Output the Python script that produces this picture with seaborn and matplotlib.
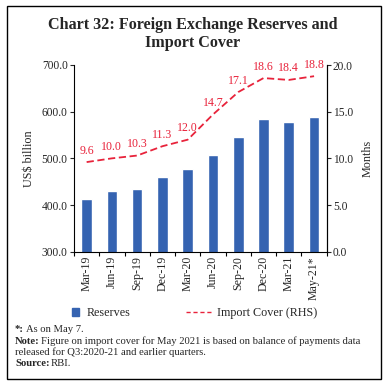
import numpy as np
import pandas as pd
import matplotlib
matplotlib.use("Agg")
import matplotlib.pyplot as plt
import seaborn as sns
from matplotlib.patches import Rectangle, Patch
from matplotlib.lines import Line2D

categories = ["Mar-19", "Jun-19", "Sep-19", "Dec-19", "Mar-20",
              "Jun-20", "Sep-20", "Dec-20", "Mar-21", "May-21*"]
reserves = [412.9, 429.6, 433.7, 459.9, 477.8, 506.8, 544.7, 585.3, 577.0, 589.5]
import_cover = [9.6, 10.0, 10.3, 11.3, 12.0, 14.7, 17.1, 18.6, 18.4, 18.8]
left_ticks = [300.0, 400.0, 500.0, 600.0, 700.0]
right_ticks = [0.0, 5.0, 10.0, 15.0, 20.0]

sns.set_style("ticks")
plt.rcParams['font.family'] = ['Liberation Serif', 'DejaVu Serif']

BLUE = "#3563B1"
RED = "#E8233B"

df = pd.DataFrame({"cat": categories, "res": reserves, "cov": import_cover,
                   "pos": np.arange(len(categories))})

W, H = 386, 385
fig = plt.figure(figsize=(W/100, H/100), dpi=100)
ax = fig.add_axes([74/W, 1-251.7/H, (326.7-74)/W, (251.7-65)/H])

sns.barplot(data=df, x="cat", y="res", color=BLUE, width=0.42, ax=ax,
            saturation=1)
ax.set_ylim(300, 700)
ax.set_xlim(-0.5, len(categories)-0.5)
ax.set_yticks(left_ticks)
ax.set_yticklabels([f"{v:.1f}" for v in left_ticks], fontsize=8.3)
ax.set_xticks(np.arange(len(categories)))
ax.set_xticklabels(categories, rotation=90, fontsize=8.6)
ax.tick_params(axis='x', which='major', length=0, pad=3)
ax.set_xticks(np.arange(-0.5, len(categories), 1.0), minor=True)
ax.tick_params(axis='x', which='minor', length=3, width=0.8, color='black')
ax.tick_params(axis='y', length=3, width=0.8, pad=1.5)
ax.set_xlabel("")
ax.set_ylabel("US$ billion", fontsize=8.7, labelpad=5)
for s in ['left', 'bottom', 'right']:
    ax.spines[s].set_color('black')
    ax.spines[s].set_linewidth(0.8)
ax.spines['top'].set_visible(False)

ax2 = ax.twinx()
sns.lineplot(data=df, x="pos", y="cov", ax=ax2, color=RED, linewidth=1.3,
             linestyle=(0, (4, 2)))
ax2.set_ylim(0, 20)
ax2.set_yticks(right_ticks)
ax2.set_yticklabels([f"{v:.1f}" for v in right_ticks], fontsize=8.3)
ax2.tick_params(axis='y', length=3, width=0.8, pad=1.5)
ax2.set_ylabel("Months", fontsize=8.7, labelpad=6)
ax2.spines['top'].set_visible(False)
ax2.spines['right'].set_color('black')
ax2.spines['right'].set_linewidth(0.8)
ax2.spines['left'].set_visible(False)
ax2.spines['bottom'].set_visible(False)
ax2.set_xlim(-0.5, len(categories)-0.5)
if ax2.get_legend():
    ax2.get_legend().remove()

for i, v in enumerate(import_cover):
    ax2.annotate(f"{v:.1f}", (i, v), xytext=(0, 4), textcoords="offset points",
                 ha="center", va="bottom", color=RED, fontsize=8.6)

# Legend (two pieces so the handles can have different lengths)
fig.legend([Patch(facecolor=BLUE, edgecolor=BLUE)], ["Reserves"], loc="center left",
           bbox_to_anchor=(72/W, 1-313/H), frameon=False, fontsize=8.7,
           handlelength=0.6, handleheight=0.6, handletextpad=0.6,
           borderpad=0, borderaxespad=0)
fig.legend([Line2D([0], [0], color=RED, linewidth=1.0, linestyle=(0, (3, 2)))],
           ["Import Cover (RHS)"], loc="center left",
           bbox_to_anchor=(186/W, 1-313/H), frameon=False, fontsize=8.7,
           handlelength=2.2, handletextpad=0.4, borderpad=0, borderaxespad=0)

# Title
fig.text(193/W, 1-25/H, "Chart 32: Foreign Exchange Reserves and",
         ha="center", va="center", fontsize=11.6, fontweight="bold")
fig.text(193/W, 1-43/H, "Import Cover",
         ha="center", va="center", fontsize=11.6, fontweight="bold")

# Footnotes
fig.canvas.draw()
renderer = fig.canvas.get_renderer()
fs = 7.7
x0 = 15/W

def mixed(y_px, bold, rest):
    t = fig.text(x0, 1-y_px/H, bold, ha="left", va="center", fontsize=fs,
                 fontweight="bold")
    bb = t.get_window_extent(renderer=renderer)
    fig.text(bb.x1/W + 1.5/W, 1-y_px/H, rest, ha="left", va="center", fontsize=fs)

mixed(329, "*:", "As on May 7.")
mixed(341.5, "Note:", "Figure on import cover for May 2021 is based on balance of payments data")
fig.text(x0, 1-352.5/H, "released for Q3:2020-21 and earlier quarters.",
         ha="left", va="center", fontsize=fs)
mixed(364, "Source:", "RBI.")

fig.patches.append(Rectangle((7.3/W, 1-379.3/H), (380.7-7.3)/W,
                             (379.3-6)/H, transform=fig.transFigure,
                             fill=False, edgecolor="black", linewidth=1.0))

fig.savefig("out.png", dpi=100)
